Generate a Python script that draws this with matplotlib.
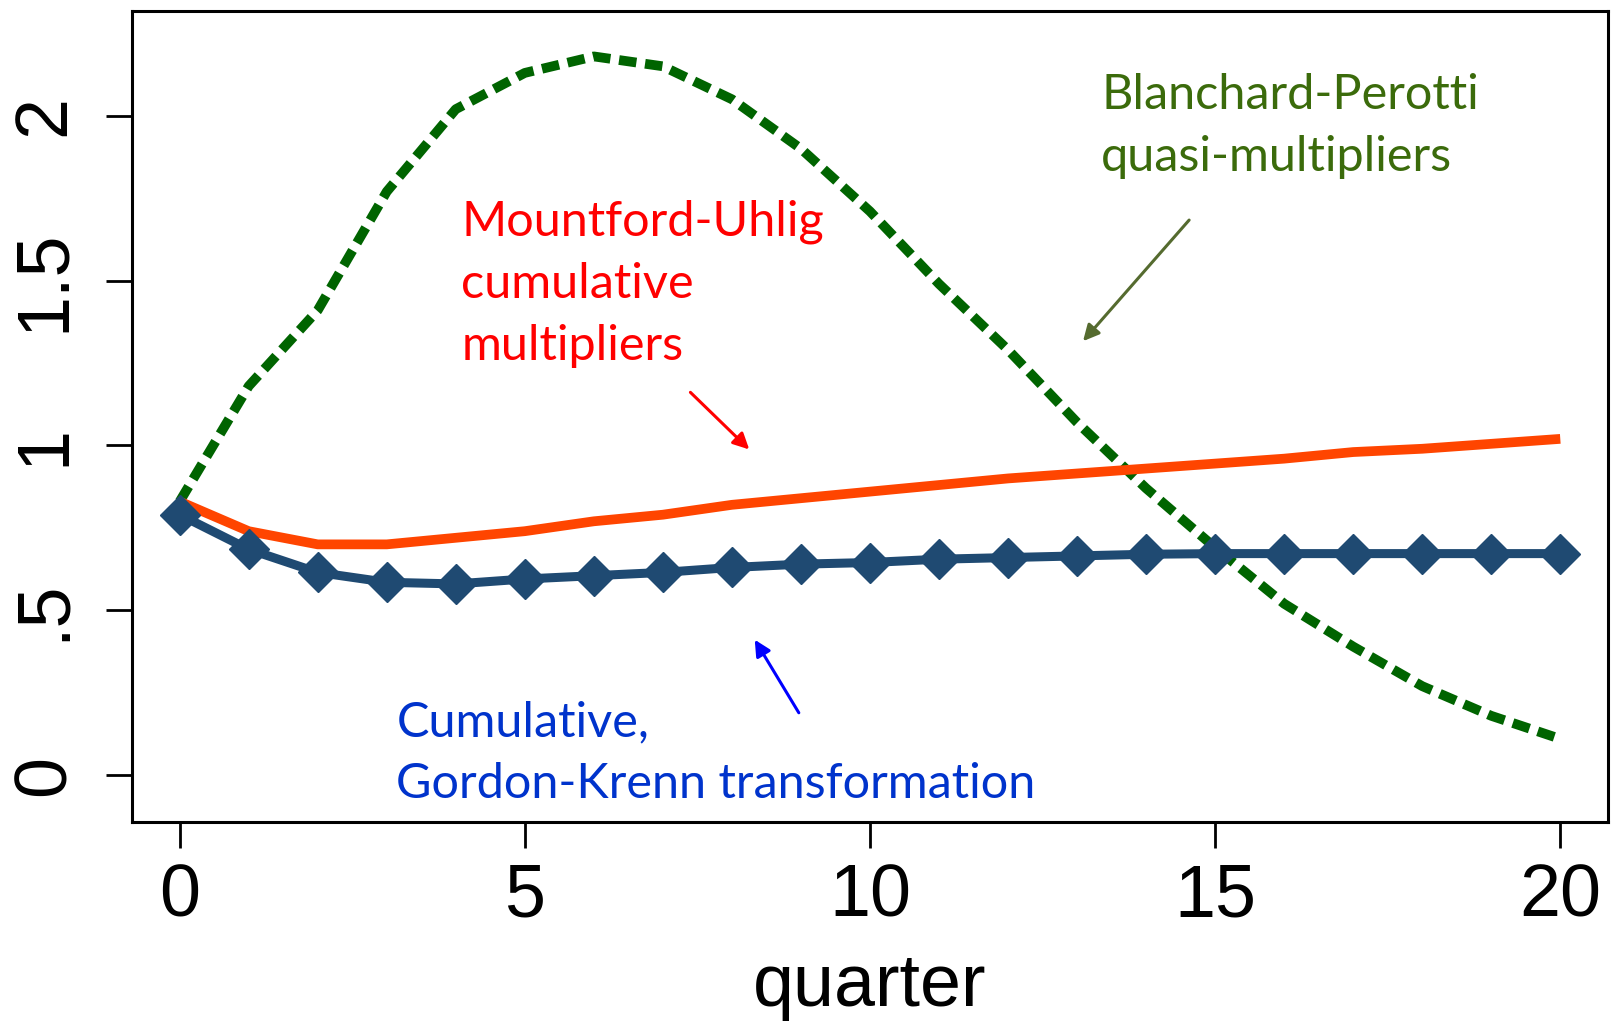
import numpy as np
import matplotlib
matplotlib.use('Agg')
import matplotlib.pyplot as plt

### data
quarter = list(range(21))

blanchard_perotti = [0.83, 1.18, 1.41, 1.77, 2.02, 2.13, 2.18, 2.15, 2.05, 1.90,
                     1.71, 1.49, 1.29, 1.07, 0.87, 0.69, 0.52, 0.39, 0.27, 0.18, 0.11]
mountford_uhlig = [0.83, 0.74, 0.70, 0.70, 0.72, 0.74, 0.77, 0.79, 0.82, 0.84,
                   0.86, 0.88, 0.90, 0.915, 0.93, 0.945, 0.96, 0.98, 0.99, 1.005, 1.02]
gordon_krenn = [0.79, 0.685, 0.615, 0.585, 0.58, 0.595, 0.605, 0.615, 0.63, 0.64,
                0.645, 0.655, 0.66, 0.665, 0.67, 0.672, 0.672, 0.672, 0.672, 0.672, 0.672]

xticks = [0, 5, 10, 15, 20]
yticks = [0, 0.5, 1, 1.5, 2]
ytick_labels = ['0', '.5', '1', '1.5', '2']

note_font = 'Lato'
tick_font = 'Liberation Sans'

### plot
fig = plt.figure(figsize=(16.16, 10.23), dpi=100)
ax = fig.add_axes([0.0817, 0.1965, 0.9133, 0.7925])

ax.plot(quarter, blanchard_perotti, color='#006400', lw=7, dashes=(1.8, 0.9),
        dash_capstyle='butt')
ax.plot(quarter, mountford_uhlig, color='#FF4500', lw=7, solid_capstyle='butt')
ax.plot(quarter, gordon_krenn, color='#1F4A72', lw=6.5, marker='D', ms=20,
        mec='#1F4A72', mfc='#1F4A72')

ax.set_xlim(-0.69, 20.69)
ax.set_ylim(-0.142, 2.317)
ax.set_xticks(xticks)
ax.set_yticks(yticks)
ax.set_yticklabels(ytick_labels, rotation=90, va='center')
for lab in ax.get_xticklabels() + ax.get_yticklabels():
    lab.set_fontfamily(tick_font)
    lab.set_fontsize(53)
ax.tick_params(axis='both', direction='out', length=19, width=2, color='black')
ax.tick_params(axis='x', pad=10)
ax.tick_params(axis='y', pad=19)
ax.set_xlabel('quarter', fontfamily=tick_font, fontsize=53, labelpad=15)
for s in ax.spines.values():
    s.set_linewidth(2.2)

# annotations
ax.text(13.35, 1.97, 'Blanchard-Perotti\nquasi-multipliers', color='#3B6B0B',
        fontfamily=note_font, fontsize=35, va='center', ha='left', linespacing=1.5)
ax.text(4.08, 1.49, 'Mountford-Uhlig\ncumulative\nmultipliers', color='#FF0000',
        fontfamily=note_font, fontsize=35, va='center', ha='left', linespacing=1.5)
ax.text(3.14, 0.067, 'Cumulative,\nGordon-Krenn transformation', color='#0033CC',
        fontfamily=note_font, fontsize=35, va='center', ha='left', linespacing=1.5)

ax.annotate('', xy=(13.06, 1.31), xytext=(14.65, 1.69),
            arrowprops=dict(arrowstyle='-|>', color='#556B2F', lw=2.2, mutation_scale=24))
ax.annotate('', xy=(8.28, 0.982), xytext=(7.37, 1.167),
            arrowprops=dict(arrowstyle='-|>', color='#FF0000', lw=2.2, mutation_scale=24))
ax.annotate('', xy=(8.31, 0.418), xytext=(8.99, 0.182),
            arrowprops=dict(arrowstyle='-|>', color='#0000FF', lw=2.2, mutation_scale=24))

plt.savefig('out.png', dpi=100)
